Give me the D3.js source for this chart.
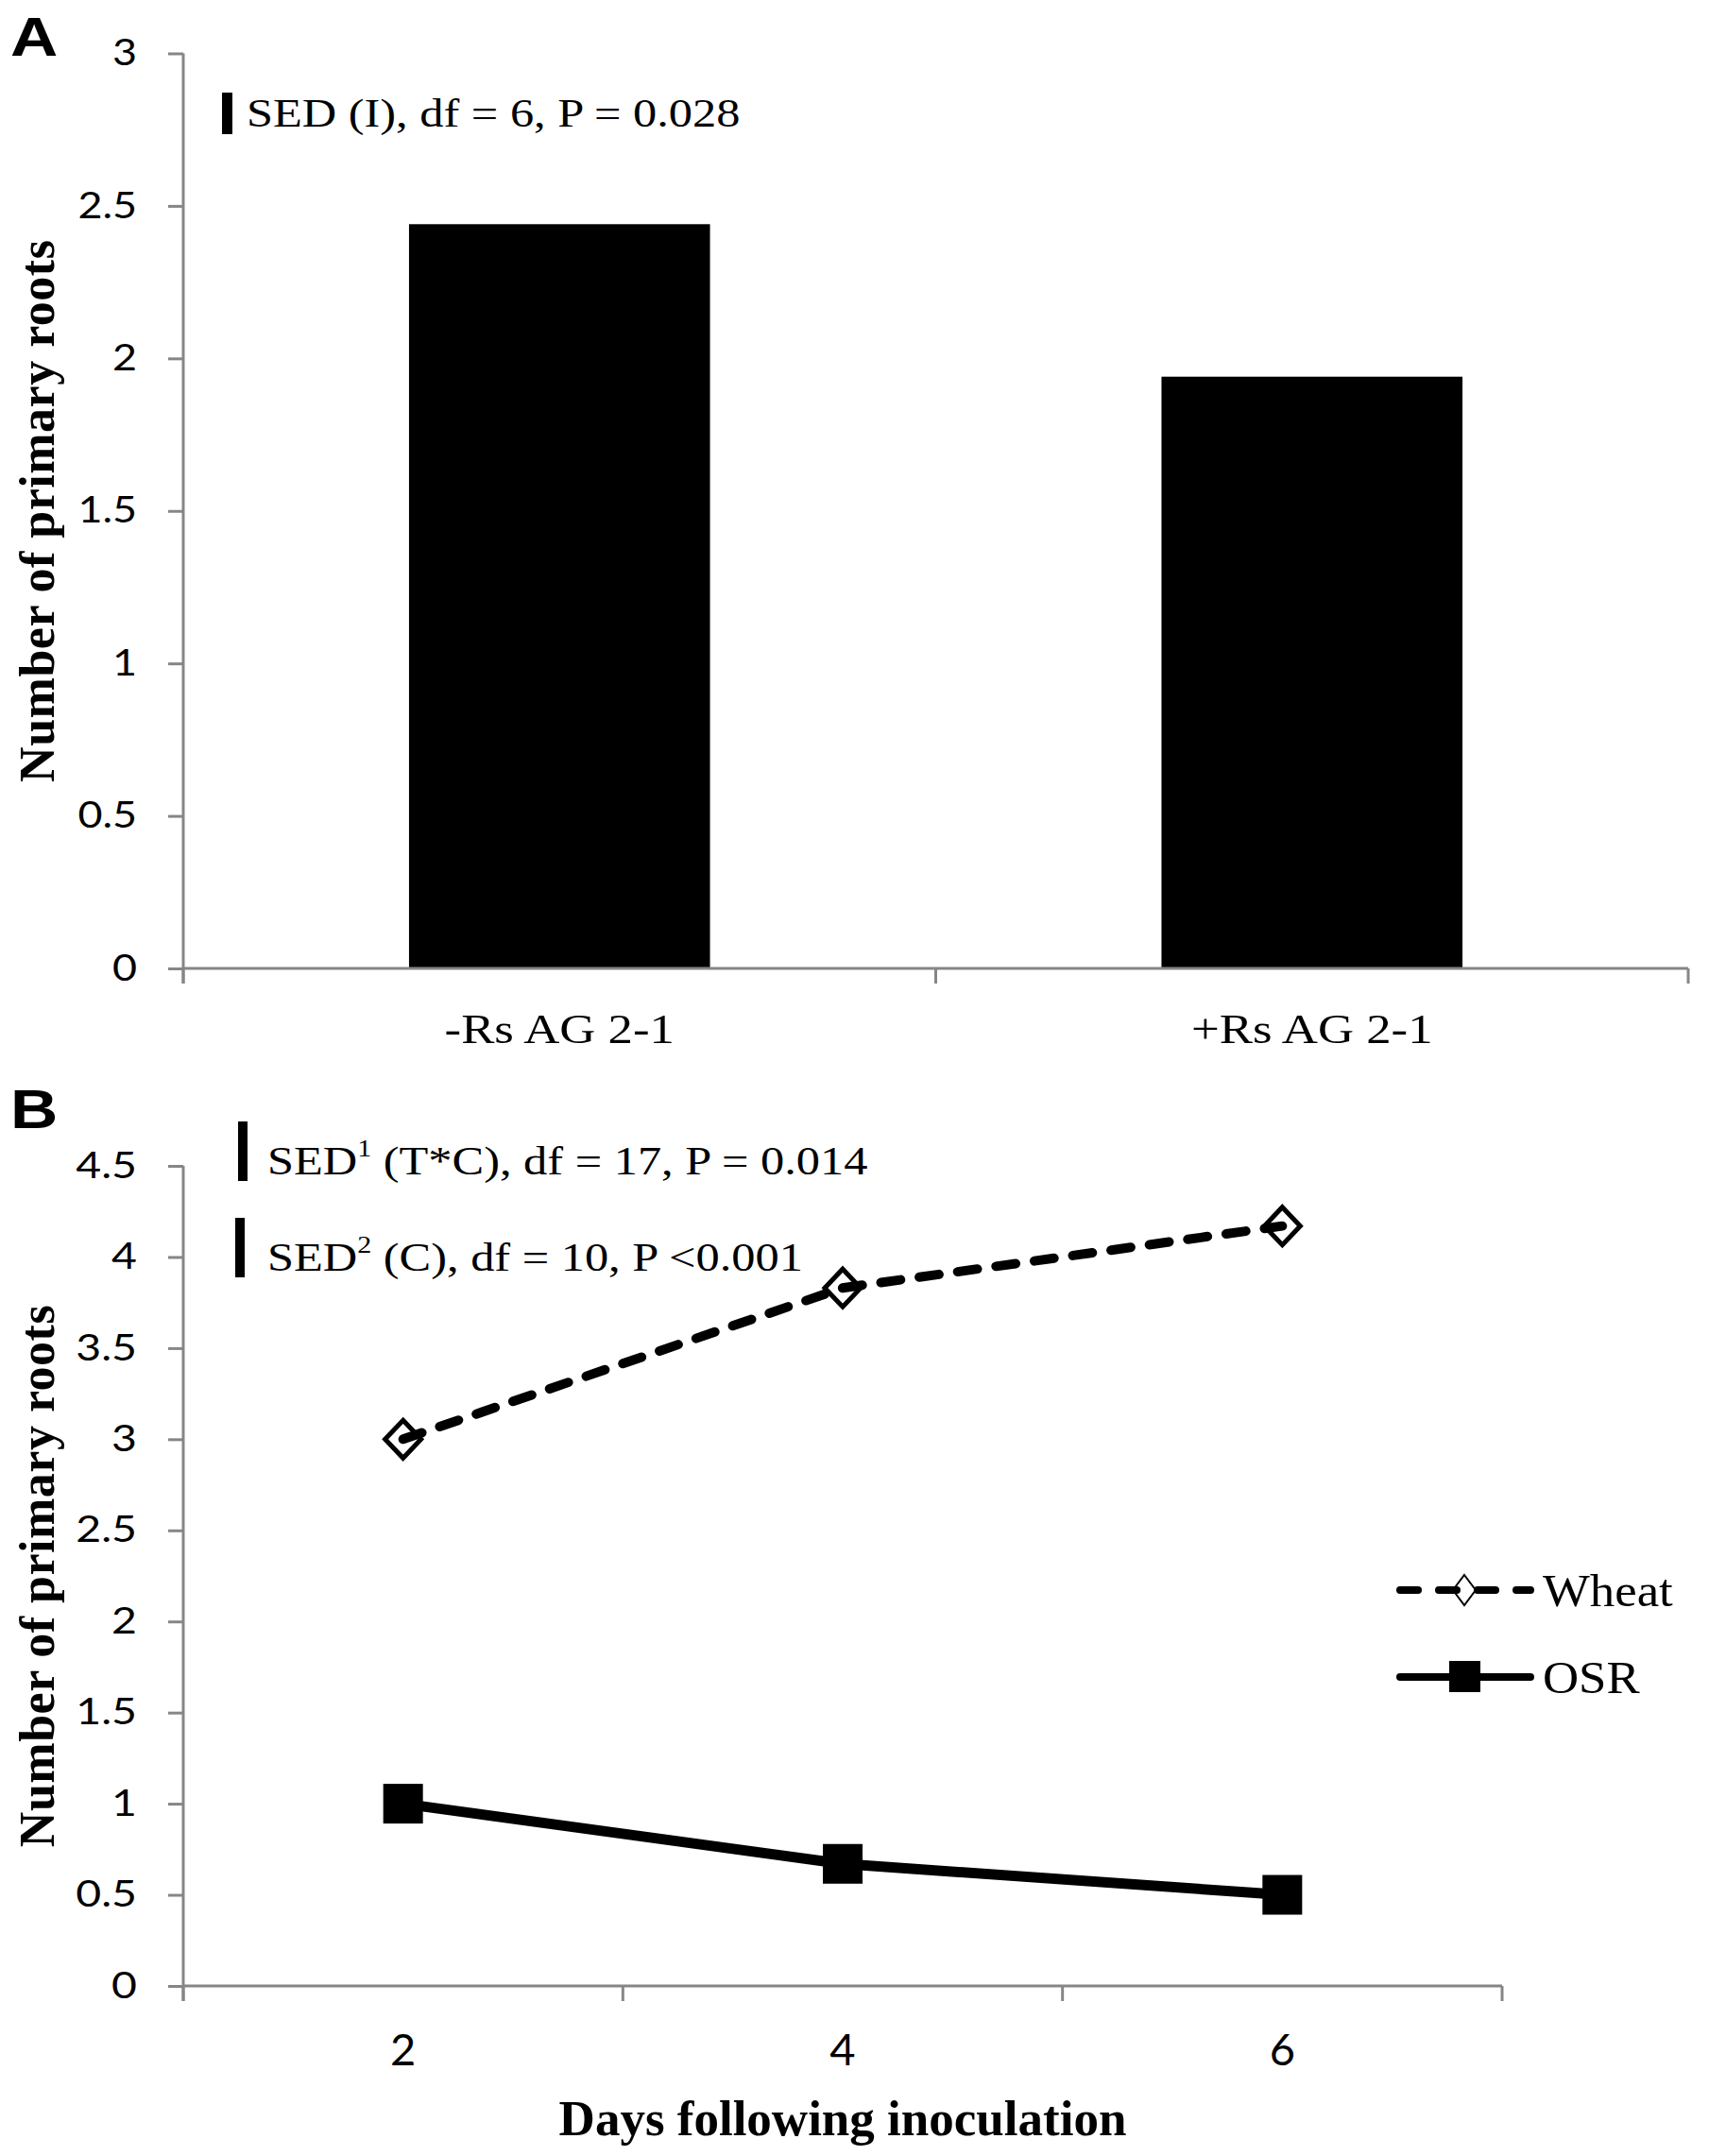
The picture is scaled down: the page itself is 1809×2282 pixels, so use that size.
<!DOCTYPE html>
<html>
<head>
<meta charset="utf-8">
<script src="https://cdn.jsdelivr.net/npm/d3@7"></script>
<style>
  html, body { margin: 0; padding: 0; background: #fff; }
  svg { display: block; }
</style>
</head>
<body>
<svg id="chart"></svg>
<script>
// panel A data
var catsA = ["-Rs AG 2-1", "+Rs AG 2-1"];
var valsA = [2.44, 1.94];
var ticksA = [0, 0.5, 1, 1.5, 2, 2.5, 3];

// panel B data
var days = ["2", "4", "6"];
var wheat = [3.0, 3.83, 4.17];
var osr = [1.0, 0.67, 0.5];
var ticksB = [0, 0.5, 1, 1.5, 2, 2.5, 3, 3.5, 4, 4.5];
var seriesNames = ["Wheat", "OSR"];

var yTitle = "Number of primary roots";
var xTitleB = "Days following inoculation";
var sedA = "SED (I), df = 6, P = 0.028";
var sedB = [
  { sup: "1", rest: " (T*C), df = 17, P = 0.014" },
  { sup: "2", rest: " (C), df = 10, P <0.001" }
];

var W = 1809, H = 2282;
var axisColor = "#868686";
var serif = "'Liberation Serif', 'Times New Roman', serif";
var sans = "Lato, 'Liberation Sans', sans-serif";

var svg = d3.select("#chart")
  .attr("width", W)
  .attr("height", H);

svg.append("rect")
  .attr("width", W)
  .attr("height", H)
  .style("fill", "#fff");

// text that is widened a bit, like the original figure
function label(g, x, y, txt, size, sx) {
  return g.append("text")
    .attr("transform", "translate(" + x + "," + y + ") scale(" + sx + ",1)")
    .style("font-size", size + "px")
    .text(txt);
}

function styleYAxis(g, sx) {
  g.select(".domain").remove();
  g.selectAll(".tick line")
    .style("stroke", axisColor)
    .style("stroke-width", 3);
  g.selectAll(".tick text")
    .attr("x", -49 / sx)
    .attr("transform", "scale(" + sx + ",1)")
    .style("font-family", sans)
    .style("font-size", "38px")
    .style("font-variant-numeric", "lining-nums")
    .style("font-feature-settings", "'lnum' 1")
    .style("fill", "#000");
}

// ---------------- Panel A ----------------
var yA = d3.scaleLinear().domain([0, 3]).range([1025, 56.5]);
var xA = d3.scaleBand().domain(catsA).range([194, 1787])
  .paddingInner(0.6).paddingOuter(0.3);

var gA = svg.append("g").attr("id", "panel-a");

gA.append("g")
  .attr("transform", "translate(194,0)")
  .call(d3.axisLeft(yA).tickValues(ticksA).tickSize(16).tickFormat(function (d) { return String(d); }))
  .call(function (g) { styleYAxis(g, 1.18); });

gA.selectAll(".bar")
  .data(valsA)
  .enter().append("rect")
    .attr("class", "bar")
    .attr("x", function (d, i) { return xA(catsA[i]); })
    .attr("y", function (d) { return yA(d); })
    .attr("width", xA.bandwidth())
    .attr("height", function (d) { return yA(0) - yA(d); })
    .style("fill", "#000");

// axis lines
var edgesA = d3.range(catsA.length + 1).map(function (i) { return xA.range()[0] + i * xA.step(); });
gA.append("line")
  .attr("x1", 194).attr("x2", 194)
  .attr("y1", yA(3)).attr("y2", yA(0) + 16)
  .style("stroke", axisColor).style("stroke-width", 3);
gA.append("line")
  .attr("x1", xA.range()[0]).attr("x2", xA.range()[1])
  .attr("y1", yA(0)).attr("y2", yA(0))
  .style("stroke", axisColor).style("stroke-width", 3);
gA.selectAll(".edge")
  .data(edgesA)
  .enter().append("line")
    .attr("class", "edge")
    .attr("x1", function (d) { return d; }).attr("x2", function (d) { return d; })
    .attr("y1", yA(0)).attr("y2", yA(0) + 16)
    .style("stroke", axisColor).style("stroke-width", 3);

gA.selectAll(".cat")
  .data(catsA)
  .enter().append("text")
    .attr("class", "cat")
    .attr("transform", function (d) {
      return "translate(" + (xA(d) + xA.bandwidth() / 2) + ",1104) scale(1.2,1)";
    })
    .attr("text-anchor", "middle")
    .style("font-family", serif)
    .style("font-size", "44px")
    .text(function (d) { return d; });

gA.append("text")
  .attr("transform", "translate(57," + ((yA(0) + yA(3)) / 2) + ") rotate(-90)")
  .attr("text-anchor", "middle")
  .style("font-family", serif)
  .style("font-weight", "bold")
  .style("font-size", "52px")
  .style("letter-spacing", "0.5px")
  .text(yTitle);

gA.append("rect")
  .attr("x", 235).attr("y", 98)
  .attr("width", 11).attr("height", 44)
  .style("fill", "#000");
label(gA, 261, 134, sedA, 42, 1.2).style("font-family", serif);

label(gA, 11, 59, "A", 58, 1.2)
  .style("font-family", "'Liberation Sans', Arial, sans-serif")
  .style("font-weight", "bold");

// ---------------- Panel B ----------------
var yB = d3.scaleLinear().domain([0, 4.5]).range([2102, 1234]);
var xB = d3.scaleBand().domain(days).range([194, 1590]);
var cx = function (d) { return xB(d) + xB.bandwidth() / 2; };

var gB = svg.append("g").attr("id", "panel-b");

gB.append("g")
  .attr("transform", "translate(194,0)")
  .call(d3.axisLeft(yB).tickValues(ticksB).tickSize(16).tickFormat(function (d) { return String(d); }))
  .call(function (g) { styleYAxis(g, 1.22); });

var edgesB = d3.range(days.length + 1).map(function (i) { return xB.range()[0] + i * xB.step(); });
gB.append("line")
  .attr("x1", 194).attr("x2", 194)
  .attr("y1", yB(4.5)).attr("y2", yB(0) + 16)
  .style("stroke", axisColor).style("stroke-width", 3);
gB.append("line")
  .attr("x1", xB.range()[0]).attr("x2", xB.range()[1])
  .attr("y1", yB(0)).attr("y2", yB(0))
  .style("stroke", axisColor).style("stroke-width", 3);
gB.selectAll(".edge")
  .data(edgesB)
  .enter().append("line")
    .attr("class", "edge")
    .attr("x1", function (d) { return d; }).attr("x2", function (d) { return d; })
    .attr("y1", yB(0)).attr("y2", yB(0) + 16)
    .style("stroke", axisColor).style("stroke-width", 3);

gB.selectAll(".day")
  .data(days)
  .enter().append("text")
    .attr("class", "day")
    .attr("x", cx)
    .attr("y", 2186)
    .attr("text-anchor", "middle")
    .style("font-family", sans)
    .style("font-size", "47px")
    .style("font-variant-numeric", "lining-nums")
    .style("font-feature-settings", "'lnum' 1")
    .text(function (d) { return d; });

var line = d3.line()
  .x(function (d, i) { return cx(days[i]); })
  .y(function (d) { return yB(d); });

function diamond(w, h) {
  return "M0," + (-h) + "L" + w + ",0L0," + h + "L" + (-w) + ",0Z";
}

// wheat markers under the dashed line
gB.selectAll(".wheat-pt")
  .data(wheat)
  .enter().append("path")
    .attr("class", "wheat-pt")
    .attr("transform", function (d, i) { return "translate(" + cx(days[i]) + "," + yB(d) + ")"; })
    .attr("d", diamond(19, 20))
    .style("fill", "#fff")
    .style("stroke", "#000")
    .style("stroke-width", 5);

gB.append("path")
  .datum(wheat)
  .attr("d", line)
  .style("fill", "none")
  .style("stroke", "#000")
  .style("stroke-width", 10)
  .style("stroke-linecap", "round")
  .style("stroke-dasharray", "21 20");

gB.append("path")
  .datum(osr)
  .attr("d", line)
  .style("fill", "none")
  .style("stroke", "#000")
  .style("stroke-width", 11);

gB.selectAll(".osr-pt")
  .data(osr)
  .enter().append("rect")
    .attr("class", "osr-pt")
    .attr("x", function (d, i) { return cx(days[i]) - 21; })
    .attr("y", function (d) { return yB(d) - 21; })
    .attr("width", 42)
    .attr("height", 42)
    .style("fill", "#000");

// legend
var leg = gB.append("g").attr("id", "legend");
var legY = [1683, 1775];
leg.append("path")
  .attr("transform", "translate(1550," + legY[0] + ")")
  .attr("d", diamond(12, 16))
  .style("fill", "#fff")
  .style("stroke", "#000")
  .style("stroke-width", 2);
leg.append("line")
  .attr("x1", 1482).attr("x2", 1620)
  .attr("y1", legY[0]).attr("y2", legY[0])
  .style("stroke", "#000")
  .style("stroke-width", 8)
  .style("stroke-linecap", "round")
  .style("stroke-dasharray", "19 22");
leg.append("line")
  .attr("x1", 1482).attr("x2", 1620)
  .attr("y1", legY[1]).attr("y2", legY[1])
  .style("stroke", "#000")
  .style("stroke-width", 8)
  .style("stroke-linecap", "round");
leg.append("rect")
  .attr("x", 1534).attr("y", legY[1] - 17)
  .attr("width", 33).attr("height", 33)
  .style("fill", "#000");
seriesNames.forEach(function (n, i) {
  label(leg, 1633, legY[i] + 17, n, 48, 1.1).style("font-family", serif);
});

// SED annotations
var sedY = [1243, 1345];
sedB.forEach(function (s, i) {
  gB.append("rect")
    .attr("x", 252 - i * 3).attr("y", sedY[i] - 56)
    .attr("width", 10).attr("height", 63)
    .style("fill", "#000");
  var t = label(gB, 283, sedY[i], "", 42, 1.2).style("font-family", serif);
  t.append("tspan").text("SED");
  t.append("tspan").attr("dy", -19).style("font-size", "25px").text(s.sup);
  t.append("tspan").attr("dy", 19).text(s.rest);
});

gB.append("text")
  .attr("transform", "translate(57," + ((yB(0) + yB(4.5)) / 2) + ") rotate(-90)")
  .attr("text-anchor", "middle")
  .style("font-family", serif)
  .style("font-weight", "bold")
  .style("font-size", "52px")
  .style("letter-spacing", "0.5px")
  .text(yTitle);

gB.append("text")
  .attr("x", (xB.range()[0] + xB.range()[1]) / 2)
  .attr("y", 2260)
  .attr("text-anchor", "middle")
  .style("font-family", serif)
  .style("font-weight", "bold")
  .style("font-size", "53px")
  .text(xTitleB);

label(gB, 11, 1194, "B", 58, 1.2)
  .style("font-family", "'Liberation Sans', Arial, sans-serif")
  .style("font-weight", "bold");
</script>
</body>
</html>
